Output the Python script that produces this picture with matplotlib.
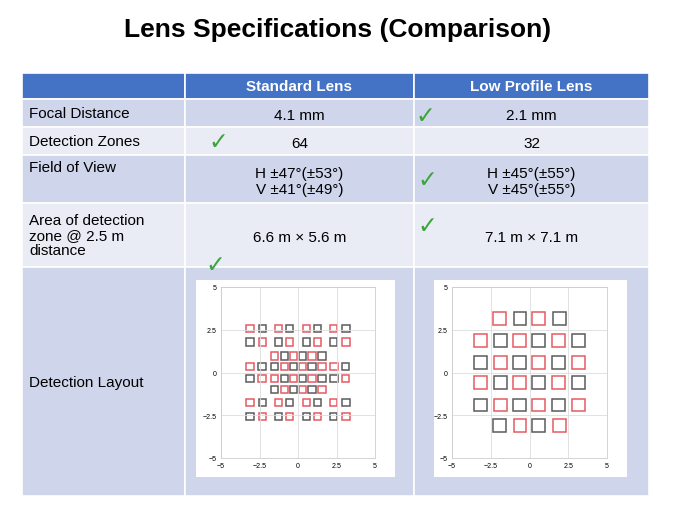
import matplotlib.pyplot as plt
from matplotlib.patches import Rectangle

plt.rcParams['font.family'] = ['Liberation Sans', 'DejaVu Sans']

W, H = 675, 506

# table content
col_heads = ['', 'Standard Lens', 'Low Profile Lens']
row_labels = ['Focal Distance', 'Detection Zones', 'Field of View',
              'Area of detection\nzone @ 2.5 m\ndistance', 'Detection Layout']
std_vals = ['4.1 mm', '64', 'H ±47°(±53°)\nV ±41°(±49°)', '6.6 m × 5.6 m', '']
low_vals = ['2.1 mm', '32', 'H ±45°(±55°)\nV ±45°(±55°)', '7.1 m × 7.1 m', '']

col_x = [22, 185, 414, 649]
row_y = [74, 100, 128, 156, 204, 268, 497]

# check marks (pixel positions)
checks = [(425, 116), (218, 142), (427, 180), (427, 226), (215, 265)]

# standard lens layout: rows of (y, xs, colours)
std_x8 = [-3.12, -2.29, -1.28, -0.56, 0.56, 1.28, 2.29, 3.12]
std_x6 = [-1.54, -0.89, -0.30, 0.30, 0.91, 1.56]
std_x10 = [-3.12, -2.35, -1.54, -0.89, -0.30, 0.30, 0.91, 1.56, 2.35, 3.10]
std_rows = [
    (2.56, std_x8, 'RKRKRKRK'),
    (1.78, std_x8, 'KRKRKRKR'),
    (0.96, std_x6, 'RKRKRK'),
    (0.35, std_x10, 'RKKRKRKRRK'),
    (-0.35, std_x10, 'KRRKRKRKKR'),
    (-0.98, std_x6, 'KRKRKR'),
    (-1.76, std_x8, 'RKRKRKRK'),
    (-2.58, std_x8, 'KRKRKRKR'),
]
low_x4 = [-1.94, -0.62, 0.60, 1.94]
low_x6 = [-3.16, -1.87, -0.65, 0.60, 1.85, 3.14]
low_rows = [
    (3.14, low_x4, 'RKRK'),
    (1.88, low_x6, 'RKRKRK'),
    (0.60, low_x6, 'KRKRKR'),
    (-0.57, low_x6, 'RKRKRK'),
    (-1.90, low_x6, 'KRKRKR'),
    (-3.10, low_x4, 'KRKR'),
]

fig = plt.figure(figsize=(6.75, 5.06), dpi=100)
bg = fig.add_axes([0, 0, 1, 1])
bg.set_xlim(0, W)
bg.set_ylim(H, 0)
bg.axis('off')

bg.text(338, 30, 'Lens Specifications (Comparison)', ha='center', va='center',
        fontsize=19, fontweight='bold')

for r in range(len(row_y) - 1):
    for c in range(3):
        if r == 0:
            fc = '#4472C4'
        else:
            fc = '#CFD5EA' if r % 2 == 1 else '#E9EBF5'
        bg.add_patch(Rectangle((col_x[c], row_y[r]), col_x[c + 1] - col_x[c],
                               row_y[r + 1] - row_y[r], fc=fc, ec='white', lw=1.2))

for c in (1, 2):
    bg.text((col_x[c] + col_x[c + 1]) / 2, (row_y[0] + row_y[1]) / 2, col_heads[c],
            ha='center', va='center', color='white', fontweight='bold', fontsize=11)

for i, lab in enumerate(row_labels):
    r = i + 1
    ymid = (row_y[r] + row_y[r + 1]) / 2
    if i == 2:
        bg.text(29, row_y[r] + 5, lab, ha='left', va='top', fontsize=11)
    else:
        bg.text(29, ymid, lab, ha='left', va='center', fontsize=11, linespacing=1.1)
    for c, vals in ((1, std_vals), (2, low_vals)):
        if vals[i]:
            bg.text((col_x[c] + col_x[c + 1]) / 2, ymid + 2, vals[i], ha='center',
                    va='center', fontsize=11, linespacing=1.2)

for x, y in checks:
    bg.text(x, y, '✓', ha='center', va='center', fontsize=17, color='#3AA53A',
            fontweight='bold', family='DejaVu Sans')

# white boxes behind the layout plots
bg.add_patch(Rectangle((196, 281), 199, 197, fc='white', ec='none'))
bg.add_patch(Rectangle((434, 281), 193, 197, fc='white', ec='none'))


def layout(px0, px1, rows, w, h):
    ax = fig.add_axes([px0 / W, 1 - 459 / H, (px1 - px0) / W, (459 - 288) / H])
    ax.set_xlim(-5, 5)
    ax.set_ylim(-5, 5)
    ax.set_xticks([-5, -2.5, 0, 2.5, 5])
    ax.set_yticks([-5, -2.5, 0, 2.5, 5])
    ax.set_xticklabels(['−5', '−2.5', '0', '2.5', '5'])
    ax.set_yticklabels(['−5', '−2.5', '0', '2.5', '5'])
    ax.tick_params(labelsize=5, length=0, pad=3)
    ax.grid(color='#dddddd', lw=0.6)
    for s in ax.spines.values():
        s.set_color('#cccccc')
        s.set_linewidth(0.6)
    for y, xs, cols in rows:
        for x, col in zip(xs, cols):
            ec = '#e0323a' if col == 'R' else '#333333'
            ax.add_patch(Rectangle((x - w / 2, y - h / 2), w, h, fc='none',
                                   ec=ec, lw=1.1, alpha=0.8))
    return ax


layout(221, 375, std_rows, 0.48, 0.43)
layout(452, 607, low_rows, 0.82, 0.74)

fig.savefig('out.png', dpi=100)
